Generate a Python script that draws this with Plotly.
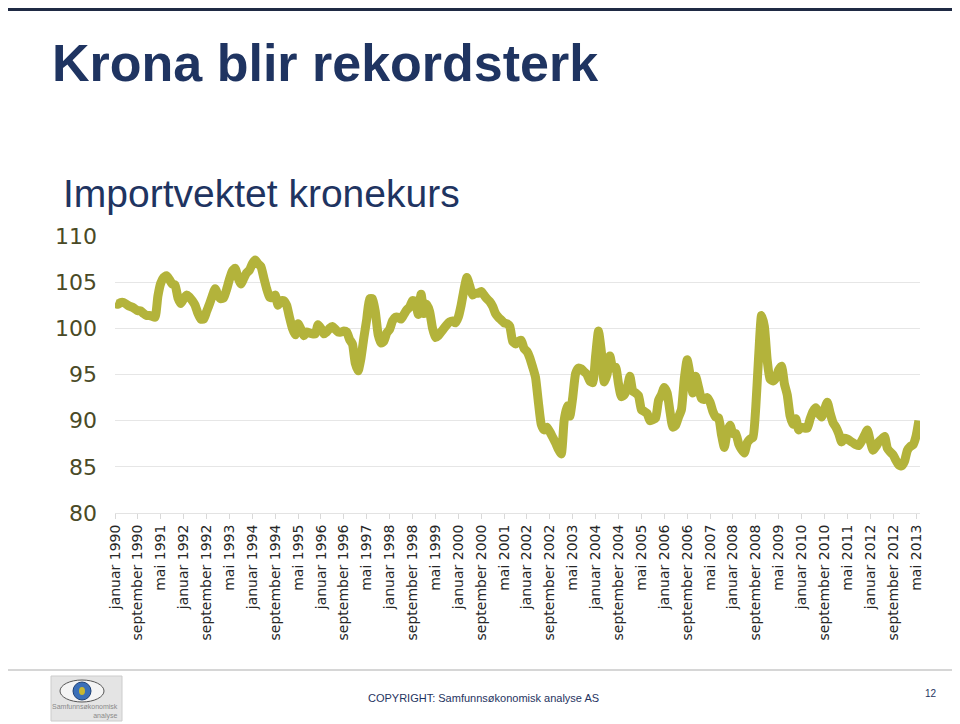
import plotly.graph_objects as go

##########
# Data   #
##########

MONTHS = ["januar", "februar", "mars", "april", "mai", "juni",
          "juli", "august", "september", "oktober", "november", "desember"]
START_YEAR = 1990

# Importvektet kronekurs, monthly from januar 1990 to juni 2013
kurs_1990_1993 = [
    102.7, 102.6, 102.8, 102.8, 102.6, 102.4, 102.3, 102.1, 101.9, 101.9, 101.6, 101.4,
    101.4, 101.3, 101.2, 103.5, 104.9, 105.5, 105.7, 105.3, 104.8, 104.7, 103.3, 102.7,
    103.2, 103.6, 103.4, 103.0, 102.5, 101.6, 101.0, 101.0, 101.8, 102.6, 103.5, 104.3,
    103.6, 103.2, 103.3, 104.2, 105.3, 106.2, 106.5, 105.5, 104.8, 105.4, 106.0, 106.3,
]
kurs_1994_1997 = [
    107.0, 107.4, 107.0, 106.7, 105.5, 104.3, 103.4, 103.3, 103.6, 102.5, 103.0, 103.0,
    102.5, 101.2, 100.0, 99.3, 100.5, 99.9, 99.2, 99.6, 99.5, 99.4, 99.4, 100.4,
    100.0, 99.4, 99.6, 100.0, 100.2, 99.9, 99.6, 99.6, 99.7, 99.6, 98.8, 98.3,
    96.2, 95.4, 96.8, 99.0, 101.0, 103.2, 103.2, 101.8, 99.3, 98.4, 98.6, 99.5,
]
kurs_1998_2001 = [
    99.9, 100.8, 101.2, 101.2, 101.0, 101.5, 102.0, 102.3, 103.0, 102.9, 101.5, 103.7,
    101.6, 102.6, 101.8, 100.0, 99.0, 99.2, 99.6, 100.0, 100.4, 100.7, 100.8, 100.6,
    101.2, 102.5, 104.2, 105.5, 104.6, 103.6, 103.8, 103.8, 104.0, 103.6, 103.2, 102.9,
    102.4, 101.6, 101.2, 100.9, 100.6, 100.5, 100.2, 98.6, 98.3, 98.6, 98.7, 97.8,
]
kurs_2002_2005 = [
    97.5, 96.8, 95.8, 94.7, 92.0, 89.6, 89.0, 89.3, 88.8, 88.2, 87.6, 86.9,
    86.4, 90.0, 91.6, 90.5, 92.5, 95.1, 95.7, 95.6, 95.3, 95.0, 94.3, 94.1,
    97.0, 99.7, 97.5, 94.2, 95.0, 97.0, 95.7, 95.8, 94.0, 92.6, 92.8, 93.5,
    94.8, 93.2, 93.0, 92.7, 91.2, 91.0, 90.8, 90.0, 90.1, 90.3, 92.2, 92.8,
]
kurs_2006_2009 = [
    93.6, 93.0, 91.0, 89.3, 89.5, 90.4, 91.2, 94.5, 96.6, 95.0, 93.0, 94.8,
    93.6, 92.4, 92.3, 92.5, 92.0, 91.0, 90.4, 90.3, 88.5, 87.1, 88.8, 89.5,
    88.6, 88.6, 87.5, 86.9, 86.5, 87.6, 88.0, 88.2, 91.5, 97.0, 101.4, 100.2,
    96.5, 94.5, 94.3, 94.6, 95.5, 95.9, 94.0, 92.8, 90.5, 89.6, 90.2, 89.0,
]
kurs_2010_2013 = [
    89.3, 89.2, 89.2, 90.2, 91.0, 91.4, 90.8, 90.4, 91.2, 92.0, 90.8, 89.8,
    89.3, 88.6, 87.7, 88.1, 88.0, 87.8, 87.6, 87.4, 87.3, 87.8, 88.4, 89.0,
    87.8, 86.8, 87.2, 87.7, 88.0, 88.3, 87.0, 86.6, 86.3, 85.7, 85.2, 85.1,
    85.6, 86.8, 87.2, 87.4, 88.3, 90.0,
]

kurs = (kurs_1990_1993 + kurs_1994_1997 + kurs_1998_2001
        + kurs_2002_2005 + kurs_2006_2009 + kurs_2010_2013)

labels = [f"{MONTHS[i % 12]} {START_YEAR + i // 12}" for i in range(len(kurs))]
x_idx = list(range(len(kurs)))
tick_idx = x_idx[::8]

Y_TICKS = [80, 85, 90, 95, 100, 105, 110]

##########
# Layout #
##########

# the page puts the figure 8px in from the top-left corner
OFF = 8
W, H = 960 - OFF, 724 - OFF
PLOT_L, PLOT_R, PLOT_T, PLOT_B = 115 - OFF, 920 - OFF, 236 - OFF, 513 - OFF

NAVY = "#1f3461"
LINE_COLOR = "#b3b33b"


def px_x(x):
    return (x - OFF - PLOT_L) / (PLOT_R - PLOT_L)


def px_y(y):
    return (PLOT_B - (y - OFF)) / (PLOT_B - PLOT_T)


fig = go.Figure()

fig.add_trace(go.Scatter(
    x=x_idx,
    y=kurs,
    mode="lines",
    line=dict(color=LINE_COLOR, width=9, shape="spline", smoothing=0.5),
    text=labels,
    hovertemplate="%{text}: %{y}<extra></extra>",
))

fig.update_layout(
    width=W,
    height=H,
    margin=dict(l=PLOT_L, r=W - PLOT_R, t=PLOT_T, b=H - PLOT_B, autoexpand=False),
    paper_bgcolor="white",
    plot_bgcolor="white",
    showlegend=False,
    title=dict(
        text="<b>Krona blir rekordsterk</b>",
        x=(52 - OFF) / W, xanchor="left",
        y=1 - (63 - OFF) / H, yanchor="middle",
        xref="container", yref="container",
        font=dict(family="Liberation Sans", size=52, color=NAVY),
    ),
)

fig.update_xaxes(
    range=[0, len(kurs) - 0.6],
    tickmode="array",
    tickvals=tick_idx,
    ticktext=[labels[i] for i in tick_idx],
    tickangle=-90,
    tickfont=dict(family="DejaVu Sans", size=14, color="#262626"),
    ticks="outside",
    ticklen=5,
    tickcolor="#d9d9d9",
    showgrid=False,
    showline=True,
    linecolor="#e3e3e3",
    linewidth=1,
    zeroline=False,
)

fig.update_yaxes(
    range=[80, 110],
    tickmode="array",
    tickvals=Y_TICKS,
    tickfont=dict(family="DejaVu Sans", size=22, color="#4a4a26"),
    ticklabelstandoff=17,
    showgrid=True,
    gridcolor="#e6e6e6",
    gridwidth=1,
    zeroline=False,
    showline=False,
)

# subtitle
fig.add_annotation(
    text="Importvektet kronekurs",
    x=px_x(61), y=px_y(193), xref="paper", yref="paper",
    xanchor="left", yanchor="middle", showarrow=False,
    font=dict(family="Liberation Sans", size=39, color=NAVY),
)

# footer texts
fig.add_annotation(
    text="COPYRIGHT: Samfunnsøkonomisk analyse AS",
    x=px_x(483), y=px_y(698), xref="paper", yref="paper",
    xanchor="center", yanchor="middle", showarrow=False,
    font=dict(family="Liberation Sans Narrow, Liberation Sans", size=11, color=NAVY),
)
fig.add_annotation(
    text="12",
    x=px_x(931), y=px_y(693), xref="paper", yref="paper",
    xanchor="center", yanchor="middle", showarrow=False,
    font=dict(family="Liberation Sans", size=10, color=NAVY),
)

# top rule and footer rule
fig.add_shape(type="line", xref="paper", yref="paper",
              x0=px_x(8), x1=px_x(958), y0=px_y(9.5), y1=px_y(9.5),
              line=dict(color="#1f2a44", width=3))
fig.add_shape(type="line", xref="paper", yref="paper",
              x0=px_x(8), x1=px_x(958), y0=px_y(670), y1=px_y(670),
              line=dict(color="#d6d6d6", width=2))

# simple stand-in for the logo
fig.add_shape(type="rect", xref="paper", yref="paper",
              x0=px_x(51), x1=px_x(122), y0=px_y(676), y1=px_y(721),
              fillcolor="#e4e4e4", line=dict(color="#cccccc", width=1))
fig.add_shape(type="circle", xref="paper", yref="paper",
              x0=px_x(60), x1=px_x(104), y0=px_y(680), y1=px_y(702),
              fillcolor="#f4f4f4", line=dict(color="#555555", width=1))
fig.add_shape(type="circle", xref="paper", yref="paper",
              x0=px_x(73), x1=px_x(91), y0=px_y(682), y1=px_y(700),
              fillcolor="#3a6fb8", line=dict(color="#1d3f74", width=1))
fig.add_shape(type="circle", xref="paper", yref="paper",
              x0=px_x(79), x1=px_x(85), y0=px_y(687), y1=px_y(695),
              fillcolor="#c8b830", line=dict(width=0))
fig.add_annotation(
    text="Samfunnsøkonomisk<br>analyse",
    x=px_x(120), y=px_y(711), xref="paper", yref="paper",
    xanchor="right", yanchor="middle", showarrow=False, align="right",
    font=dict(family="Liberation Sans Narrow, Liberation Sans", size=7, color="#8a8a8a"),
)

fig.write_html("out.html")
